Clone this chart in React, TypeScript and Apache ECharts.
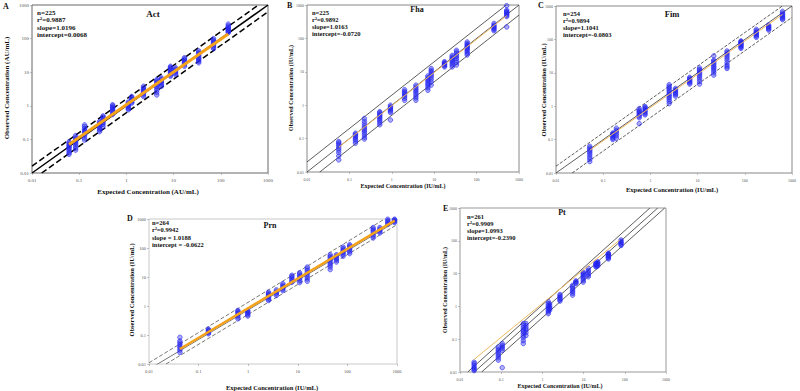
import React, { useEffect, useRef } from "react";
import * as echarts from "echarts";

// ---------- Panel A: Act ----------
const actX = [0.061, 0.084, 0.13, 0.27, 0.32, 0.51, 1.1, 1.3, 2.3, 4.4, 5.5, 8.6, 11, 17, 34, 70, 144];
const actY = [
  [0.036, 0.04, 0.045, 0.05, 0.055, 0.06, 0.065, 0.07, 0.078, 0.085],
  [0.048, 0.055, 0.062, 0.07, 0.078, 0.085, 0.095, 0.105, 0.115, 0.13],
  [0.095, 0.11, 0.13, 0.145, 0.16, 0.175, 0.19, 0.21, 0.24, 0.27],
  [0.17, 0.19, 0.21, 0.23, 0.25, 0.27, 0.29, 0.31, 0.34],
  [0.24, 0.28, 0.31, 0.35, 0.38, 0.42, 0.46, 0.5],
  [0.55, 0.62, 0.68, 0.74, 0.8, 0.86, 0.92, 1.0, 1.07],
  [0.76, 0.82, 0.88, 0.95, 1.02, 1.1, 1.2, 1.3],
  [1.2, 1.3, 1.42, 1.52, 1.62, 1.75, 1.9],
  [1.9, 2.1, 2.3, 2.5, 2.7, 2.9, 3.1, 3.4, 3.8],
  [2.1, 2.5, 2.9, 3.3, 3.7, 4.1, 4.6, 5.1, 5.6, 6.0],
  [3.8, 4.2, 4.6, 5.0, 5.4, 5.9, 6.3, 6.8],
  [7.6, 8.2, 8.9, 9.6, 10.4, 11.2, 12.0, 13.0, 14.0, 15.0],
  [8.5, 9.2, 10.0, 10.8, 11.6, 12.5, 13.5],
  [15, 16.5, 18, 19.5, 21, 23, 25, 27],
  [19, 21, 23, 25, 27, 30, 33, 36, 39, 43],
  [50, 55, 60, 66, 72, 78, 84, 91, 100],
  [150, 160, 170, 180, 190, 205, 220, 240, 270],
];
const actStats = ["n=225", "r²=0.9887", "slope=1.0196", "intercept=0.0068"];
const actIdentity = [[0.01, 0.01], [1000, 1000]];
const actUpper = [[0.01, 0.016], [625, 1000]];
const actLower = [[0.016, 0.01], [1000, 625]];
const actFit = [[0.061, 0.07], [144, 138]];

// ---------- Panel B: Fha ----------
const fhaX = [0.056, 0.139, 0.226, 0.52, 0.93, 2.0, 3.7, 7.1, 8.5, 17.5, 26.6, 33.5, 60, 257, 513];
const fhaY = [
  [0.023, 0.03, 0.038, 0.045, 0.052, 0.06, 0.068, 0.075, 0.082],
  [0.073, 0.085, 0.095, 0.105, 0.115, 0.125, 0.135, 0.145],
  [0.097, 0.11, 0.13, 0.15, 0.17, 0.19, 0.21, 0.24, 0.28, 0.33, 0.4],
  [0.26, 0.3, 0.34, 0.38, 0.42, 0.46, 0.5, 0.55, 0.6, 0.64],
  [0.36, 0.6, 0.66, 0.72, 0.78, 0.84, 0.9, 1.0],
  [1.4, 1.6, 1.8, 2.0, 2.2, 2.4, 2.6, 2.9],
  [1.4, 1.65, 1.9, 2.2, 2.5, 2.8, 3.1, 3.5, 4.0],
  [2.8, 3.3, 3.8, 4.3, 4.8, 5.4, 6.0, 6.7, 7.5],
  [4.0, 5.0, 6.0, 7.0, 8.0, 9.0, 10, 11, 12.5],
  [14, 15, 16, 17, 18, 19, 20],
  [14, 16, 18, 20, 22, 24, 26, 28, 31],
  [16, 19, 22, 25, 28, 31, 35, 39, 44],
  [32, 36, 40, 44, 48, 52, 56, 60, 65, 70, 78],
  [170, 185, 200, 215, 230, 250, 280],
  [220, 450, 490, 530, 570, 610, 650, 700, 950],
];
const fhaStats = ["n=225", "r²=0.9892", "slope=1.0163", "intercept=-0.0720"];
const fhaIdentity = [[0.01, 0.01], [1000, 1000]];
const fhaUpper = [[0.01, 0.02], [500, 1000]];
const fhaLower = [[0.02, 0.01], [1000, 500]];
const fhaFit = [[0.056, 0.055], [513, 480]];

// ---------- Panel C: Fim ----------
const fimX = [0.052, 0.16, 0.19, 0.58, 0.77, 2.5, 3.4, 6.8, 11, 22, 42, 83, 175, 320, 630];
const fimY = [
  [0.022, 0.026, 0.03, 0.035, 0.04, 0.045, 0.05, 0.056, 0.063],
  [0.1, 0.11, 0.12, 0.13, 0.14, 0.15, 0.157],
  [0.11, 0.13, 0.15, 0.17, 0.19, 0.22],
  [0.3, 0.45, 0.5, 0.55, 0.6, 0.65, 0.7, 0.75, 0.85],
  [0.55, 0.6, 0.66, 0.72, 0.78, 0.85, 0.92, 0.98],
  [1.2, 1.4, 1.6, 1.8, 2.0, 2.2, 2.5, 2.8, 3.1, 3.5, 3.9, 4.4],
  [2.0, 2.2, 2.4, 2.6, 2.8, 3.1, 3.4],
  [4.6, 5.0, 5.4, 5.8, 6.3, 6.8, 7.3],
  [4.6, 5.5, 6.5, 7.5, 8.5, 9.5, 10.5, 11.5, 12.5, 14],
  [8.5, 10, 11.5, 13, 14.5, 16, 18, 20, 22, 24, 32],
  [13.5, 15, 17, 20, 24, 28, 32, 36, 40, 45],
  [54, 58, 62, 66, 70, 74, 78, 82, 86, 90],
  [115, 125, 135, 145, 155, 165, 180, 200],
  [190, 205, 220, 235, 250, 270],
  [390, 420, 450, 480, 520, 560, 610, 690],
];
const fimStats = ["n=254", "r²=0.9894", "slope=1.1041", "intercept=-0.0803"];
const fimIdentity = [[0.01, 0.01], [1000, 1000]];
const fimUpper = [[0.01, 0.016], [625, 1000]];
const fimLower = [[0.022, 0.01], [1000, 455]];
const fimFit = [[0.052, 0.048], [630, 560]];

// ---------- Panel D: Prn ----------
const prnX = [0.042, 0.158, 0.62, 0.98, 2.57, 3.7, 5.0, 7.6, 10.9, 15.5, 45, 60, 82, 111, 331, 451, 652, 890];
const prnY = [
  [0.025, 0.03, 0.035, 0.04, 0.046, 0.053, 0.062, 0.083],
  [0.11, 0.12, 0.13, 0.14, 0.15, 0.16],
  [0.36, 0.42, 0.48, 0.54, 0.6, 0.65, 0.7],
  [0.45, 0.5, 0.55, 0.6, 0.65, 0.7],
  [1.55, 1.7, 1.9, 2.1, 2.3, 2.5, 2.75, 3.0],
  [2.3, 2.6, 2.9, 3.2, 3.6],
  [3.4, 3.8, 4.2, 4.7, 5.2, 5.9],
  [6.6, 7.4, 8.3, 9.3, 10.4, 11.5],
  [6.4, 7.5, 8.6, 9.8, 11, 12.5, 14],
  [7.1, 8.5, 10, 12, 14, 16.5, 19, 22],
  [18, 22, 26, 30, 35, 40, 46, 52, 59],
  [33, 38, 43, 48, 53, 59],
  [52, 60, 68, 76, 85, 95, 108],
  [64, 74, 84, 95, 106, 118, 131],
  [222, 260, 300, 350, 400, 450, 508],
  [331, 370, 410, 450, 508],
  [650, 720, 800, 880, 980],
  [760, 820, 880, 940, 980],
];
const prnStats = ["n=264", "r²=0.9942", "slope = 1.0188", "intercept = -0.0622"];
const prnIdentity = [[0.012, 0.008], [1000, 850]];
const prnUpper = [[0.01, 0.011], [560, 1000]];
const prnLower = [[0.022, 0.01], [1000, 640]];
const prnFit = [[0.042, 0.033], [900, 880]];

// ---------- Panel E: Pt ----------
const ptX = [0.022, 0.085, 0.106, 0.344, 0.4, 1.39, 1.5, 2.67, 5.4, 6.5, 9.8, 13, 20, 22, 40, 81];
const ptY = [
  [0.011, 0.012, 0.013, 0.014, 0.016, 0.018, 0.02],
  [0.023, 0.027, 0.031, 0.035, 0.04, 0.045, 0.05, 0.058],
  [0.0136, 0.046, 0.052, 0.058, 0.065, 0.074],
  [0.074, 0.09, 0.11, 0.13, 0.15, 0.17, 0.19, 0.22, 0.26, 0.3],
  [0.13, 0.16, 0.19, 0.22, 0.26, 0.3],
  [0.6, 0.68, 0.76, 0.85, 0.95, 1.05, 1.2, 1.4],
  [0.77, 0.85, 0.95, 1.05, 1.2],
  [1.45, 1.6, 1.75, 1.9, 2.1, 2.3],
  [2.2, 2.5, 2.8, 3.1, 3.5, 3.9, 4.4],
  [5.0, 5.3, 5.6, 6.0],
  [5.5, 6.2, 7, 7.8, 8.6, 9.5, 10.3, 11],
  [8, 9, 10, 11.2, 12.5, 14.5],
  [16, 17, 18, 19, 20, 21],
  [17, 18.5, 20, 21.5, 23],
  [28, 30, 32, 34, 36, 38, 40, 42],
  [72, 78, 84, 90, 96, 106],
];
const ptStats = ["n=261", "r²=0.9909", "slope=1.0993", "intercept=-0.2390"];
const ptIdentity = [[0.0222, 0.01], [630, 1000]];
const ptUpper = [[0.0154, 0.01], [407, 1000]];
const ptLower = [[0.0336, 0.01], [930, 1000]];
const ptFit = [[0.0219, 0.024], [76, 107]];

const tickValues = [0.01, 0.1, 1, 10, 100, 1000];

const FONT = '"Liberation Serif", "DejaVu Serif", serif';
const ORANGE = "#f5a21b";

function pairs(xs: number[], ys: number[][]) {
  const out: number[][] = [];
  xs.forEach((x, i) => ys[i].forEach((y) => out.push([x, y])));
  return out;
}

function fmt(v: number) {
  let best = tickValues[0];
  tickValues.forEach((t) => {
    if (Math.abs(Math.log10(t) - Math.log10(v)) < Math.abs(Math.log10(best) - Math.log10(v))) best = t;
  });
  return String(best);
}

type Panel = {
  letter: string;
  title: string;
  xs: number[];
  ys: number[][];
  stats: string[];
  identity: number[][];
  upper: number[][];
  lower: number[][];
  fit: number[][];
  unit: string;
  grid: { left: number; top: number; width: number; height: number };
  borderColor: string;
  refColor: string;
  refWidth: number;
  bandDashed: boolean;
  fitWidth: number;
  fitColor: string;
  labelSize: number;
  titleSize: number;
  statSize: number;
  statGap: number;
  axisTitleSize: number;
  letterPos: number[];
  titlePos: number[];
  statPos: number[];
  xTitlePos: number[];
  yTitlePos: number[];
};

const panels: Panel[] = [
  {
    letter: "A", title: "Act", xs: actX, ys: actY, stats: actStats,
    identity: actIdentity, upper: actUpper, lower: actLower, fit: actFit, unit: "AU/mL",
    grid: { left: 32, top: 5, width: 236, height: 168 }, borderColor: "#666",
    refColor: "#000", refWidth: 1.5, bandDashed: true, fitWidth: 3, fitColor: ORANGE,
    labelSize: 5, titleSize: 9, statSize: 7, statGap: 7.3, axisTitleSize: 7,
    letterPos: [3, 6], titlePos: [153, 14], statPos: [37, 13], xTitlePos: [148, 192], yTitlePos: [7, 88],
  },
  {
    letter: "B", title: "Fha", xs: fhaX, ys: fhaY, stats: fhaStats,
    identity: fhaIdentity, upper: fhaUpper, lower: fhaLower, fit: fhaFit, unit: "IU/mL",
    grid: { left: 307, top: 5, width: 212, height: 167 }, borderColor: "#888",
    refColor: "#333", refWidth: 0.8, bandDashed: false, fitWidth: 1, fitColor: "#f0b860",
    labelSize: 4, titleSize: 8, statSize: 6.5, statGap: 7, axisTitleSize: 6,
    letterPos: [287, 5], titlePos: [417, 9], statPos: [312, 12], xTitlePos: [403, 186], yTitlePos: [291, 88],
  },
  {
    letter: "C", title: "Fim", xs: fimX, ys: fimY, stats: fimStats,
    identity: fimIdentity, upper: fimUpper, lower: fimLower, fit: fimFit, unit: "IU/mL",
    grid: { left: 556, top: 6, width: 236, height: 167 }, borderColor: "#888",
    refColor: "#333", refWidth: 0.8, bandDashed: true, fitWidth: 1, fitColor: "#f0b860",
    labelSize: 4, titleSize: 8.5, statSize: 6.5, statGap: 7.3, axisTitleSize: 6.5,
    letterPos: [538, 5], titlePos: [672, 14], statPos: [563, 13], xTitlePos: [672, 189], yTitlePos: [543, 90],
  },
  {
    letter: "D", title: "Prn", xs: prnX, ys: prnY, stats: prnStats,
    identity: prnIdentity, upper: prnUpper, lower: prnLower, fit: prnFit, unit: "IU/mL",
    grid: { left: 149, top: 219, width: 248, height: 145 }, borderColor: "#c8c8c8",
    refColor: "#777", refWidth: 1, bandDashed: true, fitWidth: 2.5, fitColor: ORANGE,
    labelSize: 4.5, titleSize: 8, statSize: 6.5, statGap: 7.5, axisTitleSize: 6.5,
    letterPos: [127, 218], titlePos: [270, 225], statPos: [152, 222], xTitlePos: [272, 387], yTitlePos: [131, 290],
  },
  {
    letter: "E", title: "Pt", xs: ptX, ys: ptY, stats: ptStats,
    identity: ptIdentity, upper: ptUpper, lower: ptLower, fit: ptFit, unit: "IU/mL",
    grid: { left: 460, top: 208, width: 206, height: 164 }, borderColor: "#999",
    refColor: "#333", refWidth: 0.8, bandDashed: false, fitWidth: 1, fitColor: "#f0b860",
    labelSize: 4, titleSize: 8, statSize: 6.5, statGap: 7.3, axisTitleSize: 6,
    letterPos: [443, 208], titlePos: [562, 212], statPos: [467, 216], xTitlePos: [560, 386], yTitlePos: [445, 290],
  },
];

function buildOption() {
  const grid: any[] = [];
  const xAxis: any[] = [];
  const yAxis: any[] = [];
  const series: any[] = [];
  const graphic: any[] = [];

  panels.forEach((p, i) => {
    grid.push({ ...p.grid, show: true, borderColor: p.borderColor, borderWidth: 1, backgroundColor: "transparent" });
    const axisCommon = {
      type: "log",
      logBase: 10,
      min: 0.01,
      max: 1000,
      gridIndex: i,
      axisLine: { show: false },
      axisTick: { show: true, length: 2, lineStyle: { color: "#888", width: 0.5 } },
      splitLine: { show: false },
      axisLabel: {
        fontSize: p.labelSize,
        fontFamily: FONT,
        color: "#555",
        margin: 3,
        formatter: (v: number) => fmt(v),
      },
    };
    xAxis.push({ ...axisCommon, axisLabel: { ...axisCommon.axisLabel, margin: 5 } });
    yAxis.push({ ...axisCommon });

    series.push({
      type: "scatter",
      xAxisIndex: i,
      yAxisIndex: i,
      data: pairs(p.xs, p.ys),
      symbol: "circle",
      symbolSize: 4.5,
      itemStyle: { color: "rgba(30,30,215,0.45)", borderColor: "#2a2aff", borderWidth: 0.8 },
      z: 3,
    });
    const lineBase = { type: "line", xAxisIndex: i, yAxisIndex: i, symbol: "none", silent: true, clip: true };
    series.push({ ...lineBase, data: p.identity, lineStyle: { color: p.refColor, width: p.refWidth }, z: 2 });
    series.push({ ...lineBase, data: p.upper, lineStyle: { color: p.refColor, width: p.refWidth, type: p.bandDashed ? "dashed" : "solid" }, z: 2 });
    series.push({ ...lineBase, data: p.lower, lineStyle: { color: p.refColor, width: p.refWidth, type: p.bandDashed ? "dashed" : "solid" }, z: 2 });
    series.push({ ...lineBase, data: p.fit, lineStyle: { color: p.fitColor, width: p.fitWidth }, z: 4 });

    const bold = { fontFamily: FONT, fontWeight: "bold", fill: "#111" };
    graphic.push({ type: "text", x: p.letterPos[0], y: p.letterPos[1], style: { ...bold, text: p.letter, fontSize: 8, textVerticalAlign: "middle" } });
    graphic.push({ type: "text", x: p.titlePos[0], y: p.titlePos[1], style: { ...bold, text: p.title, fontSize: p.titleSize, textAlign: "center", textVerticalAlign: "middle" } });
    p.stats.forEach((s, k) => {
      graphic.push({ type: "text", x: p.statPos[0], y: p.statPos[1] + k * p.statGap, style: { ...bold, text: s, fontSize: p.statSize, textVerticalAlign: "middle" } });
    });
    graphic.push({ type: "text", x: p.xTitlePos[0], y: p.xTitlePos[1], style: { ...bold, text: `Expected Concentration (${p.unit})`, fontSize: p.axisTitleSize, textAlign: "center", textVerticalAlign: "middle" } });
    graphic.push({ type: "text", x: p.yTitlePos[0], y: p.yTitlePos[1], rotation: Math.PI / 2, style: { ...bold, text: `Observed Concentration (${p.unit})`, fontSize: p.axisTitleSize, textAlign: "center", textVerticalAlign: "middle" } });
  });

  return { animation: false, backgroundColor: "#fff", grid, xAxis, yAxis, series, graphic };
}

export default function App() {
  const ref = useRef<HTMLDivElement>(null);
  useEffect(() => {
    if (!ref.current) return;
    const chart = echarts.init(ref.current, undefined, { renderer: "svg" });
    chart.setOption(buildOption() as any);
    return () => chart.dispose();
  }, []);
  return <div ref={ref} style={{ position: "absolute", left: 0, top: 0, width: 800, height: 391 }} />;
}
